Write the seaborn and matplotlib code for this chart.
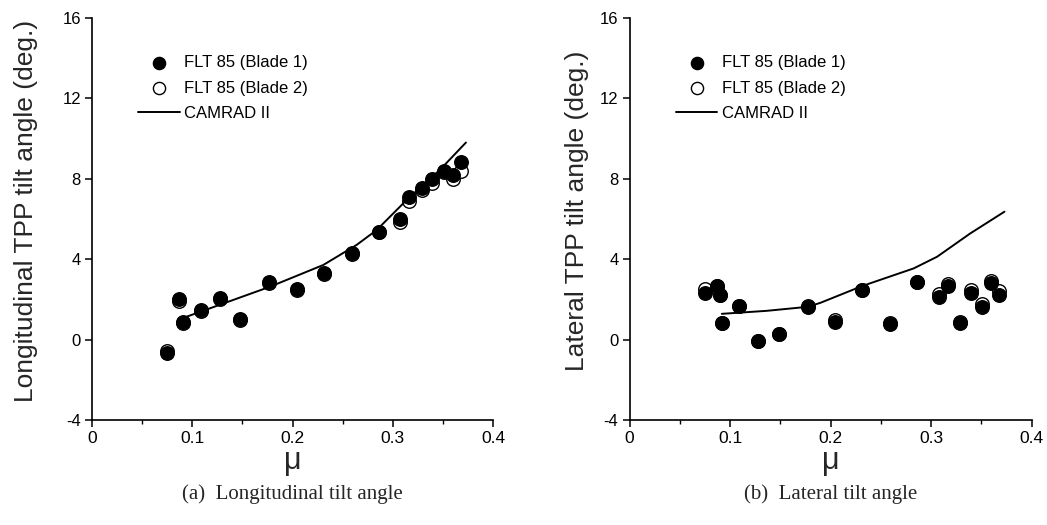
import numpy as np
import pandas as pd
import matplotlib
matplotlib.use("Agg")
import matplotlib.pyplot as plt
import seaborn as sns
from matplotlib.ticker import MultipleLocator

# ---------------- data ----------------
# (a) Longitudinal tilt angle
lon_mu = [0.0745, 0.0868, 0.091, 0.109, 0.128, 0.148, 0.177, 0.2045, 0.231,
          0.2597, 0.286, 0.3075, 0.3165, 0.329, 0.3395, 0.351, 0.360, 0.368]
lon_b1 = [-0.68, 2.0, 0.89, 1.47, 2.08, 1.0, 2.88, 2.5, 3.3,
          4.29, 5.37, 5.98, 7.08, 7.52, 7.97, 8.39, 8.19, 8.85]
lon_b2 = [-0.58, 1.9, 0.82, 1.44, 2.0, 0.95, 2.8, 2.45, 3.27,
          4.25, 5.33, 5.85, 6.9, 7.45, 7.77, 8.33, 7.97, 8.4]
lon_cam_mu = [0.0945, 0.1776, 0.2307, 0.264, 0.284, 0.314, 0.347, 0.373]
lon_cam = [1.14, 2.63, 3.71, 4.71, 5.45, 6.95, 8.44, 9.8]

# (b) Lateral tilt angle
lat_mu = [0.0752, 0.0868, 0.090, 0.092, 0.109, 0.128, 0.1486, 0.1775, 0.2047,
          0.2313, 0.2595, 0.2857, 0.3076, 0.317, 0.3285, 0.340, 0.351, 0.360, 0.368]
lat_b1 = [2.30, 2.68, 2.21, 0.84, 1.67, -0.07, 0.27, 1.62, 0.85,
          2.46, 0.77, 2.85, 2.13, 2.66, 0.84, 2.33, 1.60, 2.80, 2.21]
lat_b2 = [2.50, 2.68, 2.21, 0.84, 1.67, -0.07, 0.27, 1.68, 0.97,
          2.46, 0.80, 2.85, 2.26, 2.76, 0.88, 2.49, 1.77, 2.93, 2.43]
lat_cam_mu = [0.0918, 0.1366, 0.1775, 0.19, 0.2313, 0.2827, 0.306, 0.339, 0.373]
lat_cam = [1.28, 1.43, 1.63, 1.83, 2.66, 3.54, 4.12, 5.28, 6.36]

x_ticks = [0, 0.1, 0.2, 0.3, 0.4]
y_ticks = [-4, 0, 4, 8, 12, 16]
legend_labels = ["FLT 85 (Blade 1)", "FLT 85 (Blade 2)", "CAMRAD II"]
ylabels = ["Longitudinal TPP tilt angle (deg.)", "Lateral TPP tilt angle (deg.)"]
captions = ["(a)  Longitudinal tilt angle", "(b)  Lateral tilt angle"]

# ---------------- style ----------------
sns.set_style("ticks")
plt.rcParams['font.family'] = ['Liberation Sans', 'DejaVu Sans']
narrow = ['Liberation Sans Narrow', 'Liberation Sans', 'DejaVu Sans']

fig = plt.figure(figsize=(10.47, 5.25), dpi=100)
axes = [fig.add_axes([0.0879, 0.2, 0.383, 0.766]),
        fig.add_axes([0.6013, 0.2, 0.384, 0.766])]

panels = [
    (lon_mu, lon_b1, lon_b2, lon_cam_mu, lon_cam),
    (lat_mu, lat_b1, lat_b2, lat_cam_mu, lat_cam),
]

for i, (ax, (mu, b1, b2, cmu, cam)) in enumerate(zip(axes, panels)):
    d2 = pd.DataFrame({"mu": mu, "v": b2})
    d1 = pd.DataFrame({"mu": mu, "v": b1})
    dc = pd.DataFrame({"mu": cmu, "v": cam})
    sns.scatterplot(data=d2, x="mu", y="v", ax=ax, marker="o", s=95,
                    facecolor="white", edgecolor="black", linewidth=1.0,
                    label=legend_labels[1], zorder=2)
    sns.scatterplot(data=d1, x="mu", y="v", ax=ax, marker="o", s=95,
                    color="black", edgecolor="black", linewidth=1.0,
                    label=legend_labels[0], zorder=3)
    sns.lineplot(data=dc, x="mu", y="v", ax=ax, color="black", linewidth=1.4,
                 label=legend_labels[2], zorder=4)

    ax.set_xlim(0, 0.4)
    ax.set_ylim(-4, 16)
    ax.set_xticks(x_ticks)
    ax.set_xticklabels([f"{t:g}" for t in x_ticks], family=narrow, fontsize=12.5)
    ax.set_yticks(y_ticks)
    ax.set_yticklabels([f"{t:g}" for t in y_ticks], fontsize=12)
    ax.xaxis.set_minor_locator(MultipleLocator(0.05))
    ax.tick_params(axis="both", which="major", direction="out", length=5,
                   width=1.1, color="black", labelcolor="black", pad=3)
    ax.tick_params(axis="x", which="minor", direction="out", length=3,
                   width=1.0, color="black")
    sns.despine(ax=ax)
    for sp in ("left", "bottom"):
        ax.spines[sp].set_linewidth(1.2)
        ax.spines[sp].set_color("black")

    ax.set_xlabel("μ", family=narrow, fontsize=22, labelpad=0)
    ax.set_ylabel(ylabels[i], fontsize=19, labelpad=5)
    ax.yaxis.set_label_coords(-0.135 if i == 0 else -0.1, 0.52)

    h, l = ax.get_legend_handles_labels()
    order = [l.index(x) for x in legend_labels]
    leg = ax.legend([h[k] for k in order], [l[k] for k in order],
                    loc="upper left", bbox_to_anchor=(0.115, 0.907),
                    frameon=False, borderaxespad=0, borderpad=0,
                    handlelength=2.5, handletextpad=0.25, labelspacing=0.62,
                    markerscale=0.9, fontsize=12)
    for t in leg.get_texts():
        t.set_color("black")

    fig.text(ax.get_position().x0 + ax.get_position().width / 2, 0.058,
             captions[i], ha="center", va="center",
             family=['Liberation Serif', 'DejaVu Serif'], fontsize=15)

fig.savefig("out.png", dpi=100, facecolor="white")
